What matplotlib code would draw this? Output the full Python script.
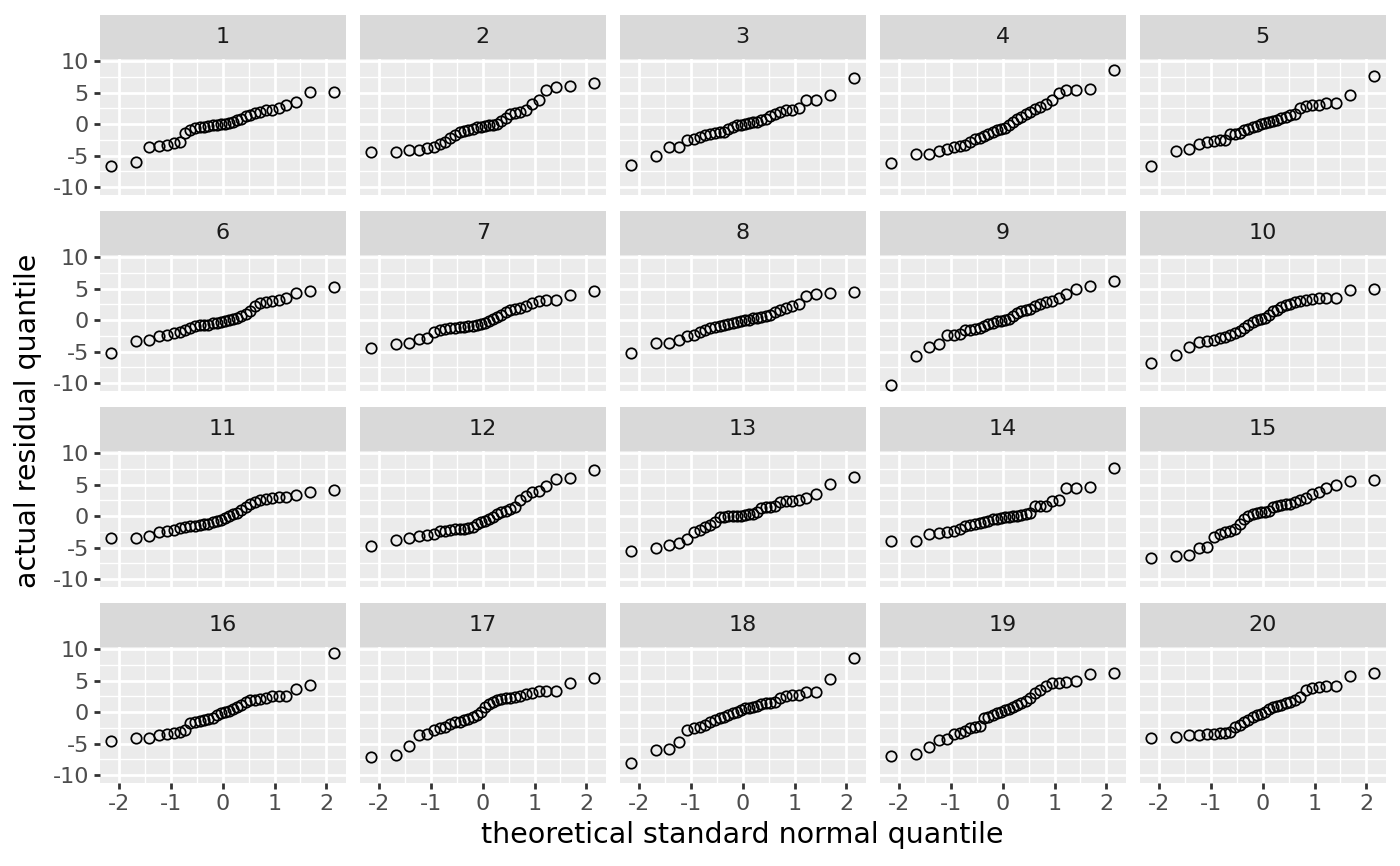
import matplotlib
matplotlib.use("Agg")
import matplotlib.pyplot as plt
from statistics import NormalDist

resid_01 = [-6.6, -6.0, -3.6, -3.5, -3.3, -3.0, -2.9, -1.4, -0.9, -0.6, -0.5, -0.4, -0.3, -0.2, -0.1, 0.0,
            0.1, 0.2, 0.4, 0.6, 0.9, 1.3, 1.5, 1.8, 2.0, 2.2, 2.3, 2.5, 3.1, 3.6, 5.1, 5.1]
resid_02 = [-4.5, -4.5, -4.1, -4.1, -3.8, -3.7, -3.1, -2.8, -2.2, -1.7, -1.3, -1.1, -0.9, -0.7, -0.5, -0.4,
            -0.3, -0.2, -0.1, 0.1, 0.5, 1.0, 1.6, 1.8, 1.9, 2.2, 3.2, 3.8, 5.4, 6.0, 6.1, 6.5]
resid_03 = [-6.5, -5.05, -3.7, -3.7, -2.5, -2.3, -2.1, -1.8, -1.6, -1.4, -1.3, -1.3, -0.8, -0.5, -0.2, -0.1,
            0.0, 0.2, 0.3, 0.4, 0.6, 0.9, 1.3, 1.6, 1.9, 2.2, 2.3, 2.5, 3.8, 3.9, 4.6, 7.4]
resid_04 = [-6.2, -4.8, -4.75, -4.3, -4.0, -3.7, -3.5, -3.3, -2.8, -2.4, -2.2, -1.9, -1.6, -1.3, -1.0, -0.8,
            -0.6, -0.2, 0.4, 0.8, 1.2, 1.6, 1.9, 2.4, 2.8, 3.2, 3.8, 5.0, 5.5, 5.5, 5.6, 8.6]
resid_05 = [-6.6, -4.2, -3.9, -3.2, -2.8, -2.7, -2.6, -2.5, -1.6, -1.5, -1.4, -1.0, -0.7, -0.4, -0.3, 0.0,
            0.2, 0.3, 0.5, 0.6, 1.0, 1.1, 1.4, 1.7, 2.6, 2.9, 3.1, 3.1, 3.4, 3.4, 4.6, 7.7]
resid_06 = [-5.3, -3.3, -3.1, -2.6, -2.4, -2.1, -1.9, -1.6, -1.2, -0.9, -0.8, -0.75, -0.7, -0.5, -0.4, -0.3,
            -0.2, 0.0, 0.2, 0.4, 0.6, 1.0, 1.5, 2.2, 2.7, 2.9, 3.0, 3.2, 3.6, 4.3, 4.7, 5.3]
resid_07 = [-4.5, -3.8, -3.6, -3.0, -2.8, -1.9, -1.6, -1.4, -1.3, -1.2, -1.1, -1.05, -1.0, -0.9, -0.75, -0.6,
            -0.4, -0.1, 0.2, 0.5, 0.8, 1.3, 1.6, 1.8, 2.0, 2.2, 2.7, 3.1, 3.2, 3.2, 4.0, 4.6]
resid_08 = [-5.3, -3.6, -3.6, -3.1, -2.6, -2.3, -1.9, -1.5, -1.3, -1.1, -0.9, -0.7, -0.6, -0.4, -0.3, -0.1,
            0.0, 0.1, 0.3, 0.4, 0.5, 0.7, 0.9, 1.3, 1.6, 2.0, 2.2, 2.5, 3.8, 4.1, 4.3, 4.5]
resid_09 = [-10.3, -5.7, -4.3, -3.8, -2.4, -2.3, -2.2, -1.6, -1.5, -1.4, -1.3, -0.9, -0.6, -0.4, -0.2, -0.1,
            0.0, 0.2, 0.6, 1.1, 1.4, 1.6, 1.8, 2.3, 2.6, 2.9, 3.1, 3.5, 4.2, 5.0, 5.4, 6.2]
resid_10 = [-6.9, -5.5, -4.3, -3.5, -3.3, -3.1, -2.9, -2.7, -2.4, -2.1, -1.7, -1.2, -0.7, -0.3, 0.0, 0.2,
            0.4, 0.9, 1.4, 1.7, 2.1, 2.4, 2.6, 2.9, 3.0, 3.2, 3.4, 3.5, 3.6, 3.6, 4.8, 5.0]
resid_11 = [-3.4, -3.4, -3.2, -2.5, -2.4, -2.2, -1.9, -1.7, -1.6, -1.5, -1.4, -1.3, -1.2, -1.0, -0.8, -0.6,
            -0.3, 0.0, 0.3, 0.5, 1.0, 1.5, 1.9, 2.2, 2.6, 2.8, 2.9, 3.0, 3.1, 3.3, 3.9, 4.15]
resid_12 = [-4.7, -3.8, -3.5, -3.1, -3.0, -2.9, -2.4, -2.3, -2.2, -2.1, -2.05, -2.0, -1.9, -1.8, -1.2, -1.0,
            -0.8, -0.5, -0.2, 0.3, 0.6, 0.9, 1.1, 1.4, 2.5, 3.2, 3.9, 4.0, 4.8, 6.0, 6.1, 7.3]
resid_13 = [-5.5, -5.1, -4.6, -4.2, -3.7, -2.5, -2.2, -1.8, -1.4, -1.0, -0.2, -0.1, 0.0, 0.0, 0.1, 0.1,
            0.2, 0.3, 0.4, 0.6, 1.3, 1.4, 1.5, 1.6, 2.3, 2.4, 2.45, 2.6, 2.9, 3.6, 5.2, 6.3]
resid_14 = [-4.0, -4.0, -2.9, -2.7, -2.5, -2.3, -2.0, -1.6, -1.4, -1.3, -1.1, -0.9, -0.7, -0.5, -0.4, -0.3,
            -0.2, -0.1, 0.0, 0.1, 0.2, 0.3, 0.5, 1.6, 1.7, 1.7, 2.4, 2.5, 4.5, 4.5, 4.7, 7.6]
resid_15 = [-6.6, -6.3, -6.2, -5.0, -4.9, -3.3, -2.8, -2.5, -2.3, -2.0, -1.3, -0.4, 0.0, 0.4, 0.5, 0.6,
            0.6, 0.8, 1.4, 1.7, 1.8, 1.9, 2.0, 2.3, 2.6, 2.9, 3.5, 3.9, 4.5, 5.0, 5.6, 5.7]
resid_16 = [-4.6, -4.1, -4.1, -3.6, -3.5, -3.3, -3.1, -2.8, -1.7, -1.5, -1.4, -1.3, -1.1, -0.9, -0.4, -0.2,
            0.0, 0.2, 0.5, 0.9, 1.1, 1.6, 1.9, 2.0, 2.1, 2.3, 2.5, 2.6, 2.6, 3.7, 4.4, 9.4]
resid_17 = [-7.1, -6.9, -5.4, -3.7, -3.5, -2.9, -2.6, -2.3, -1.9, -1.6, -1.5, -1.3, -1.1, -0.8, -0.5, 0.1,
            0.8, 1.3, 1.7, 1.9, 2.1, 2.2, 2.3, 2.4, 2.6, 2.9, 3.1, 3.3, 3.4, 3.4, 4.6, 5.5]
resid_18 = [-8.1, -6.0, -5.9, -4.8, -2.8, -2.5, -2.3, -2.1, -1.5, -1.2, -1.0, -0.8, -0.5, -0.2, 0.1, 0.4,
            0.6, 0.7, 0.9, 1.0, 1.3, 1.4, 1.5, 1.7, 2.3, 2.6, 2.7, 2.7, 3.2, 3.2, 5.3, 8.7]
resid_19 = [-7.0, -6.6, -5.6, -4.4, -4.2, -3.5, -3.3, -3.0, -2.5, -2.3, -2.2, -1.0, -0.7, -0.4, -0.2, 0.1,
            0.3, 0.5, 0.8, 1.1, 1.4, 1.8, 2.3, 3.0, 3.5, 4.2, 4.6, 4.7, 4.8, 4.9, 6.1, 6.3]
resid_20 = [-4.1, -4.0, -3.7, -3.6, -3.5, -3.4, -3.3, -3.3, -3.1, -2.4, -2.0, -1.6, -1.2, -0.7, -0.4, -0.3,
            0.1, 0.5, 0.8, 1.0, 1.2, 1.4, 1.7, 2.0, 2.4, 3.5, 3.8, 4.0, 4.1, 4.1, 5.7, 6.2]

panels = [resid_01, resid_02, resid_03, resid_04, resid_05, resid_06, resid_07, resid_08, resid_09, resid_10,
          resid_11, resid_12, resid_13, resid_14, resid_15, resid_16, resid_17, resid_18, resid_19, resid_20]
panel_labels = [str(i + 1) for i in range(len(panels))]

x_ticks = [-2, -1, 0, 1, 2]
y_ticks = [-10, -5, 0, 5, 10]

plt.rcParams['font.family'] = ['DejaVu Sans']
plt.rcParams['axes.unicode_minus'] = False

# stat_qq: theoretical normal quantiles at ppoints(n)
n = len(resid_01)
theo = [NormalDist().inv_cdf((i + 0.5) / n) for i in range(n)]

# shared scales with ggplot's 5% expansion
all_y = [v for p in panels for v in p]
ypad = 0.05 * (max(all_y) - min(all_y))
ylim = (min(all_y) - ypad, max(all_y) + ypad)
xpad = 0.05 * (max(theo) - min(theo))
xlim = (min(theo) - xpad, max(theo) + xpad)

W, H = 1400, 866
fig = plt.figure(figsize=(W / 100, H / 100), dpi=100)

pw, ph, sh = 245.5, 136, 44
for k, vals in enumerate(panels):
    r, c = divmod(k, 5)
    left = 100 + c * 260
    top = 59 + r * 196
    ax = fig.add_axes([left / W, 1 - (top + ph) / H, pw / W, ph / H])
    ax.set_facecolor('#EBEBEB')
    ax.set_xlim(*xlim)
    ax.set_ylim(*ylim)
    ax.set_xticks(x_ticks)
    ax.set_xticks([-1.5, -0.5, 0.5, 1.5], minor=True)
    ax.set_yticks(y_ticks)
    ax.set_yticks([-7.5, -2.5, 2.5, 7.5], minor=True)
    ax.grid(which='major', color='white', linewidth=2.0)
    ax.grid(which='minor', color='white', linewidth=1.0)
    ax.set_axisbelow(True)
    for s in ax.spines.values():
        s.set_visible(False)
    ax.plot(theo, sorted(vals), 'o', mfc='none', mec='black', ms=7.5, mew=1.25, clip_on=False)
    ax.tick_params(which='minor', length=0)
    ax.tick_params(which='major', length=4.5, width=2.0, color='#333333',
                   labelsize=16, labelcolor='#4D4D4D', pad=3.5)
    if c != 0:
        ax.tick_params(axis='y', left=False, labelleft=False)
    if r != 3:
        ax.tick_params(axis='x', bottom=False, labelbottom=False)

    strip = fig.add_axes([left / W, 1 - top / H, pw / W, sh / H])
    strip.set_facecolor('#D9D9D9')
    strip.set_xticks([])
    strip.set_yticks([])
    for s in strip.spines.values():
        s.set_visible(False)
    strip.text(0.5, 0.5, panel_labels[k], ha='center', va='center',
               fontsize=16, color='#1A1A1A', transform=strip.transAxes)

fig.text(28 / W, 1 - 421 / H, 'actual residual quantile', rotation=90,
         ha='center', va='center', fontsize=20.5, color='black')
fig.text(742 / W, 1 - 835 / H, 'theoretical standard normal quantile',
         ha='center', va='center', fontsize=20.5, color='black')

fig.savefig('out.png', dpi=100)
